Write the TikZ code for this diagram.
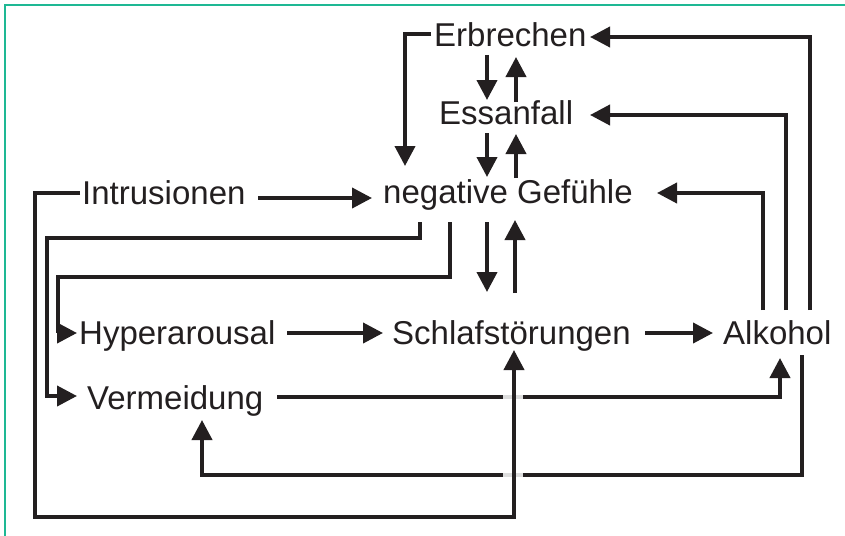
\documentclass[tikz,border=0pt]{standalone}
\usepackage{fontspec}
\setmainfont{Liberation Sans}
\usetikzlibrary{arrows.meta}
\definecolor{ink}{RGB}{35,31,32}
\definecolor{frame}{RGB}{30,184,148}
\definecolor{bridge}{RGB}{221,221,221}
\begin{document}
\begin{tikzpicture}[x=1pt,y=-1pt,
  label/.style={inner sep=0pt, anchor=base west, text=ink,
    font=\fontsize{33}{40}\selectfont},
  link/.style={draw=ink, line width=3.9pt, line join=miter,
    -{Triangle[length=20pt,width=20pt]}}]
\useasboundingbox (0,0) rectangle (845,535);
\fill[white] (0,0) rectangle (845,535);
% frame edges
\draw[frame, line width=2.2pt] (5,540) -- (5,5) -- (850,5);

% labels
\node[label] (erb)  at (434,46)  {Erbrechen};
\node[label] (ess)  at (439,124) {Essanfall};
\node[label] (neg)  at (383,203) {negative Gefühle};
\node[label] (intr) at (82,204)  {Intrusionen};
\node[label] (hyp)  at (79,344)  {Hyperarousal};
\node[label] (schl) at (392,344) {Schlafstörungen};
\node[label] (alk)  at (723,344) {Alkohol};
\node[label] (verm) at (87,409)  {Vermeidung};

% vertical pairs in the middle column
\draw[link] ([shift={(53,9)}]erb.base west)   -- ([shift={(48,-24)}]ess.base west);
\draw[link] ([shift={(77,-22)}]ess.base west) -- ([shift={(82,11)}]erb.base west);
\draw[link] ([shift={(48,9)}]ess.base west)   -- ([shift={(104,-26)}]neg.base west);
\draw[link] ([shift={(133,-25)}]neg.base west) -- ([shift={(77,10)}]ess.base west);
\draw[link] ([shift={(104,19)}]neg.base west) -- ([shift={(95,-52)}]schl.base west);
\draw[link] ([shift={(123,-51)}]schl.base west) -- ([shift={(132,17)}]neg.base west);

% Erbrechen back to negative Gefuehle
\draw[link] ([shift={(-3,-12)}]erb.base west) -| ([shift={(22,-37)}]neg.base west);

% horizontal chains
\draw[link] ([shift={(176,-6)}]intr.base west) -- ([shift={(-11,-5)}]neg.base west);
\draw[link] ([shift={(208,-11)}]hyp.base west) -- ([shift={(-9,-11)}]schl.base west);
\draw[link] ([shift={(253,-11)}]schl.base west) -- ([shift={(-10,-11)}]alk.base west);

% negative Gefuehle to Vermeidung and Hyperarousal
\draw[link] ([shift={(37,19)}]neg.base west) |- (47,238) |- ([shift={(-10,-13)}]verm.base west);
\draw[link] ([shift={(67,19)}]neg.base west) |- (58,277) |- ([shift={(-2,-11)}]hyp.base west);

% Alkohol feedback upwards
\draw[link] ([shift={(40,-34)}]alk.base west) |- ([shift={(274,-10)}]neg.base west);
\draw[link] ([shift={(63,-34)}]alk.base west) |- ([shift={(151,-9)}]ess.base west);
\draw[link] ([shift={(87,-34)}]alk.base west) |- ([shift={(156,-9)}]erb.base west);

% lower loops between Vermeidung and Alkohol
\draw[link] ([shift={(190,-12)}]verm.base west) -| ([shift={(57,14)}]alk.base west);
\draw[link] ([shift={(79,11)}]alk.base west) |- (202,475) -- ([shift={(115,11)}]verm.base west);

% bridges where the long riser crosses
\fill[bridge] (503,395) rectangle (523,399);
\fill[bridge] (503,473) rectangle (523,477);

% Intrusionen round the bottom to Schlafstoerungen
\draw[link] ([shift={(-2,-11)}]intr.base west) -- (35,193) -- (35,517) -| ([shift={(122,6)}]schl.base west);
\end{tikzpicture}
\end{document}
